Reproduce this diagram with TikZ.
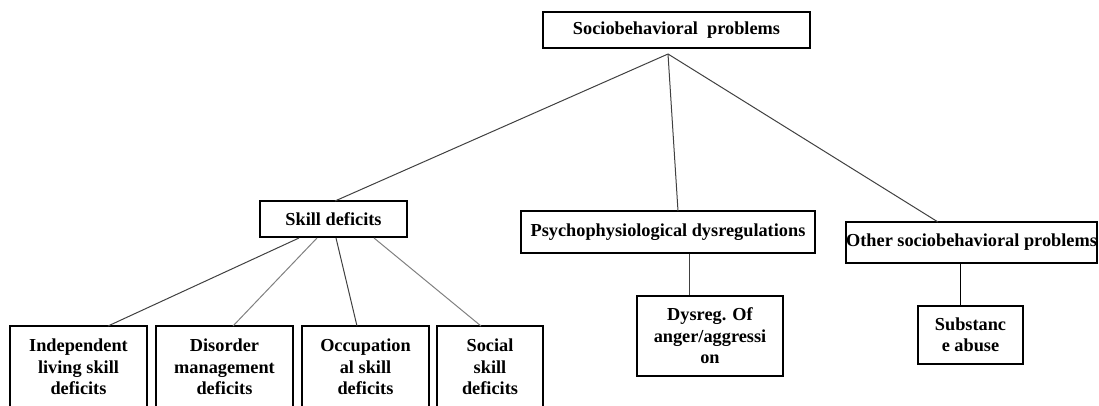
\documentclass[tikz,border=0pt]{standalone}
\usepackage{fontspec}
\setmainfont{Liberation Serif}
\begin{document}
\begin{tikzpicture}[x=1pt,y=-1pt,
  box/.style={draw=black,line width=1.1pt,fill=white,inner sep=0pt,align=center,
    font=\fontsize{18.3}{21.5}\selectfont\bfseries},
  link/.style={line width=1pt,draw=black!75},
  lightlink/.style={line width=1pt,draw=black!50}]
\useasboundingbox (0,0) rectangle (1099,405);
\clip (0,0) rectangle (1099,405);

% tree levels
\node[box,minimum width=267pt,minimum height=36pt] (root) at (676.5,30) {Sociobehavioral\ \ problems};
\node[box,minimum width=147pt,minimum height=36pt] (skill) at (333.5,219) {Skill deficits};
\node[box,minimum width=294pt,minimum height=42pt] (psy) at (668,232) {Psychophysiological dysregulations};
\node[box,minimum width=251pt,minimum height=41pt] (other) at (971.5,242.5) {Other sociobehavioral problems};
\node[box,minimum width=146pt,minimum height=80pt] (dys) at (710,336) {Dysreg. Of\\anger/aggressi\\on};
\node[box,minimum width=105pt,minimum height=58pt] (sub) at (970.5,335) {Substanc\\e abuse};
\node[box,minimum width=137pt,minimum height=82pt] (b1) at (78.5,367) {Independent\\living skill\\deficits};
\node[box,minimum width=137pt,minimum height=82pt] (b2) at (224.5,367) {Disorder\\management\\deficits};
\node[box,minimum width=127pt,minimum height=82pt] (b3) at (365.5,367) {Occupation\\al skill\\deficits};
\node[box,minimum width=106pt,minimum height=82pt] (b4) at (490,367) {Social\\skill\\deficits};

% connector end points
\coordinate (apex) at (668,54);
\coordinate (skt) at (335,201);
\coordinate (pst) at (678,211);
\coordinate (ott) at (938,222);
\coordinate (s1) at (299,238);
\coordinate (s2) at (317,238);
\coordinate (s3) at (336,238);
\coordinate (s4) at (374,238);
\coordinate (t1) at (108,326);
\coordinate (t2) at (233,326);
\coordinate (t3) at (357,326);
\coordinate (t4) at (481,326);

% connectors
\draw[link] (apex) -- (skt);
\draw[link] (apex) -- (pst);
\draw[link] (apex) -- (ott);
\draw[link] (s1) -- (t1);
\draw[lightlink] (s2) -- (t2);
\draw[link] (s3) -- (t3);
\draw[lightlink] (s4) -- (t4);
\draw[link] (psy.south -| dys.north) ++(-21,0) coordinate (pd) -- (pd |- dys.north);
\draw[line width=1pt] (other.south -| sub.north) ++(-10.5,0) coordinate (os) -- (os |- sub.north);
\end{tikzpicture}
\end{document}
